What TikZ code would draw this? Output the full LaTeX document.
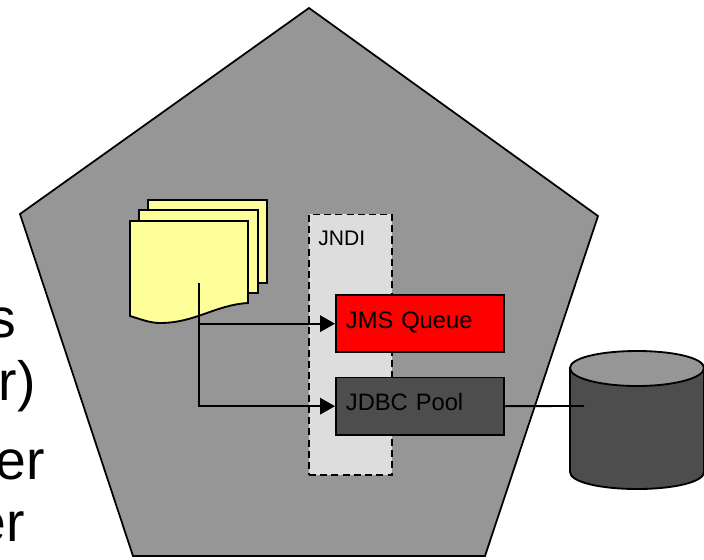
\documentclass[tikz,border=0pt]{standalone}
\usepackage{fontspec}
\setmainfont{Liberation Sans}
\usepackage{xcolor}
\usetikzlibrary{arrows.meta}
\definecolor{servergray}{HTML}{969696}
\definecolor{darkgray}{HTML}{4D4D4D}
\definecolor{pageyellow}{HTML}{FFFF99}
\definecolor{jndigray}{HTML}{DDDDDD}

\begin{document}
\begin{tikzpicture}[x=0.02cm,y=-0.02cm,
    outline/.style={draw=black,line width=1.05pt},
    resource/.style={outline,anchor=north west,minimum width=3.36cm,minimum height=1.15cm,
        inner sep=0pt,text width=2.96cm,text height=9pt,text depth=4pt,align=left,font=\fontsize{13.5}{16}\selectfont},
    flow/.style={-{Triangle[length=3mm,width=3.3mm]},line width=1.05pt},
    bigtext/.style={anchor=base east,inner sep=0pt,font=\fontsize{31.5}{36}\selectfont}]
    \useasboundingbox (0,0) rectangle (704,559);

    % Cut-off slide text
    \node[bigtext] (lineone) at (17,337) {s};
    \node[bigtext] (linetwo) at (36,400) {r)};
    \node[bigtext] (linethree) at (45,479) {er};
    \node[bigtext] (linefour) at (25,541) {er};

    % Server pentagon
    \draw[fill=servergray,line width=1pt] (309,8) -- (598,216) -- (485,556) -- (133,556) -- (20,214) -- cycle;

    % JNDI tree
    \node[draw=black,dash pattern=on 4pt off 2.4pt,line width=1.05pt,fill=jndigray,anchor=north west,minimum width=1.66cm,minimum height=5.22cm] (jndi) at (308,213.5) {};
    \node[anchor=base west,inner sep=0pt,font=\fontsize{12}{14}\selectfont] (jndilabel) at (318,245) {JNDI};

    % Stack of pages
    \draw[outline,fill=pageyellow] (148,200) rectangle (267,283);
    \draw[outline,fill=pageyellow] (139,210) rectangle (258,293);
    \draw[outline,fill=pageyellow] (130,221) -- (248,221) -- (248,303)
        .. controls (215,305) and (195,323) .. (160,323)
        .. controls (150,323) and (140,319) .. (130,316) -- cycle;
    \coordinate (pagetap) at (199,283);

    % Resources
    \node[resource,fill=red] (jms) at (335,294) {JMS Queue};
    \node[resource,fill=darkgray] (jdbc) at (335,376.5) {JDBC Pool};

    % Database
    \draw[outline,fill=darkgray] (570,368) -- (570,472) .. controls (570,482) and (600,489) .. (637,489)
        .. controls (674,489) and (704,482) .. (704,472) -- (704,368) -- cycle;
    \draw[outline,fill=servergray] (637,351) .. controls (600,351) and (570,358) .. (570,368)
        .. controls (570,378) and (600,386) .. (637,386)
        .. controls (674,386) and (704,378) .. (704,368)
        .. controls (704,358) and (674,351) .. (637,351) -- cycle;
    \coordinate (dbtap) at (584,406);

    % Connectors
    \draw[flow] (pagetap) |- (jms.west);
    \draw[flow] (pagetap) |- (jdbc.west);
    \draw[line width=1.05pt] (jdbc.east) -- (dbtap);
\end{tikzpicture}
\end{document}
